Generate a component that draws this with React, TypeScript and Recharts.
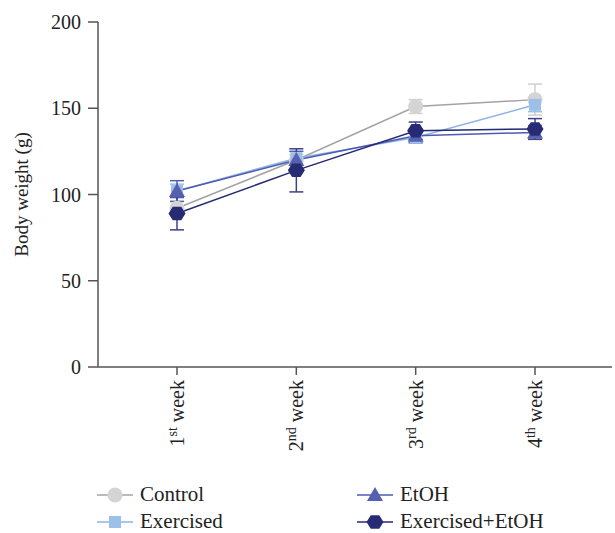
import { LineChart, Line, XAxis, YAxis, ErrorBar, Legend } from "recharts";

// ================= DATA =================
const weekNums = ["1", "2", "3", "4"];
const weekSuffix = ["st", "nd", "rd", "th"];

const control = [92, 120, 151, 155];
const controlErr = [4, 3, 4, 9];
const exercised = [102, 121, 133, 152];
const exercisedErr = [4, 4, 3, 4];
const etoh = [102, 120, 134, 136];
const etohErr = [6, 5, 4, 4];
const exEtoh = [89, 114, 137, 138];
const exEtohErr = [9.5, 12.5, 5, 6];

const yTicks = [0, 50, 100, 150, 200];

const FONT = "Tinos, 'Liberation Serif', 'Times New Roman', 'DejaVu Serif', serif";

const series = [
  { key: "control", name: "Control", line: "#a3a3a3", fill: "#d4d4d4", err: "#cfcfcf", shape: "circle" },
  { key: "exercised", name: "Exercised", line: "#8db4e2", fill: "#9dc0e8", err: "#9dc0e8", shape: "square" },
  { key: "etoh", name: "EtOH", line: "#4d5bb3", fill: "#5561b0", err: "#5561b0", shape: "triangle" },
  { key: "exEtoh", name: "Exercised+EtOH", line: "#262a74", fill: "#272b74", err: "#3d4183", shape: "hexagon" },
];

const data = weekNums.map((n, i) => ({
  week: n + weekSuffix[i],
  control: control[i],
  controlErr: controlErr[i],
  exercised: exercised[i],
  exercisedErr: exercisedErr[i],
  etoh: etoh[i],
  etohErr: etohErr[i],
  exEtoh: exEtoh[i],
  exEtohErr: exEtohErr[i],
}));

// ================= MARKERS =================
function Marker({ shape, cx, cy, fill }: { shape: string; cx: number; cy: number; fill: string }) {
  if (shape === "circle") return <circle cx={cx} cy={cy} r={7.5} fill={fill} />;
  if (shape === "square") return <rect x={cx - 6} y={cy - 6} width={12} height={12} fill={fill} />;
  if (shape === "triangle") {
    const pts = `${cx},${cy - 8} ${cx + 8},${cy + 6} ${cx - 8},${cy + 6}`;
    return <polygon points={pts} fill={fill} />;
  }
  const r = 8.5;
  const pts = [0, 60, 120, 180, 240, 300]
    .map((a) => {
      const t = (a * Math.PI) / 180;
      return `${cx + r * Math.cos(t)},${cy + r * 0.92 * Math.sin(t)}`;
    })
    .join(" ");
  return <polygon points={pts} fill={fill} />;
}

// ================= TICKS =================
// eslint-disable-next-line
function WeekTick({ x, y, payload, index }: any) {
  const i = index ?? weekNums.findIndex((n, k) => n + weekSuffix[k] === payload.value);
  return (
    <text
      transform={`translate(${x + 7},${y + 3}) rotate(-90)`}
      textAnchor="end"
      fontFamily={FONT}
      fontSize={20}
      fill="#222"
    >
      <tspan>{weekNums[i]}</tspan>
      <tspan dy={-7} fontSize={14}>
        {weekSuffix[i]}
      </tspan>
      <tspan dy={7}> week</tspan>
    </text>
  );
}

// ================= LEGEND =================
function LegendContent() {
  const cols = [97, 357];
  return (
    <div style={{ position: "relative", width: 615, height: 58, fontFamily: FONT, fontSize: 21, color: "#222" }}>
      {series.map((s, i) => {
        const left = cols[Math.floor(i / 2)];
        const top = 6 + (i % 2) * 27;
        return (
          <div key={s.key} style={{ position: "absolute", left, top, height: 27, display: "flex", alignItems: "center" }}>
            <svg width={36} height={20}>
              <line x1={0} y1={10} x2={36} y2={10} stroke={s.line} strokeWidth={1.5} />
              <Marker shape={s.shape} cx={18} cy={10} fill={s.fill} />
            </svg>
            <span style={{ marginLeft: 7, whiteSpace: "nowrap" }}>{s.name}</span>
          </div>
        );
      })}
    </div>
  );
}

export default function App() {
  return (
    <div style={{ position: "absolute", left: 0, top: 0, background: "#fff" }}>
      <LineChart width={615} height={533} data={data} margin={{ top: 22, right: 3, left: 0, bottom: 0 }}>
        <XAxis
          dataKey="week"
          padding={{ left: 79, right: 77 }}
          height={108}
          tickSize={8}
          stroke="#555"
          strokeWidth={1.5}
          tick={<WeekTick />}
          interval={0}
        />
        <YAxis
          domain={[0, 200]}
          ticks={yTicks}
          width={98}
          tickSize={10}
          tickMargin={7}
          stroke="#555"
          strokeWidth={1.5}
          tick={{ fontFamily: FONT, fontSize: 20, fill: "#222" }}
          label={({ viewBox }: any) => (
            <text
              transform={`translate(28,${viewBox.y + viewBox.height / 2}) rotate(-90)`}
              textAnchor="middle"
              fontFamily={FONT}
              fontSize={19}
              fill="#222"
            >
              Body weight (g)
            </text>
          )}
        />
        {series.map((s) => (
          <Line
            key={s.key}
            dataKey={s.key}
            name={s.name}
            stroke={s.line}
            strokeWidth={1.5}
            isAnimationActive={false}
            dot={(p: any) => <Marker key={p.index} shape={s.shape} cx={p.cx} cy={p.cy} fill={s.fill} />}
            activeDot={false}
          >
            <ErrorBar dataKey={s.key + "Err"} direction="y" width={7} stroke={s.err} strokeWidth={1.5} />
          </Line>
        ))}
        <Legend
          verticalAlign="bottom"
          content={<LegendContent />}
          wrapperStyle={{ left: 0, top: 475, width: 615, height: 58 }}
        />
      </LineChart>
    </div>
  );
}
